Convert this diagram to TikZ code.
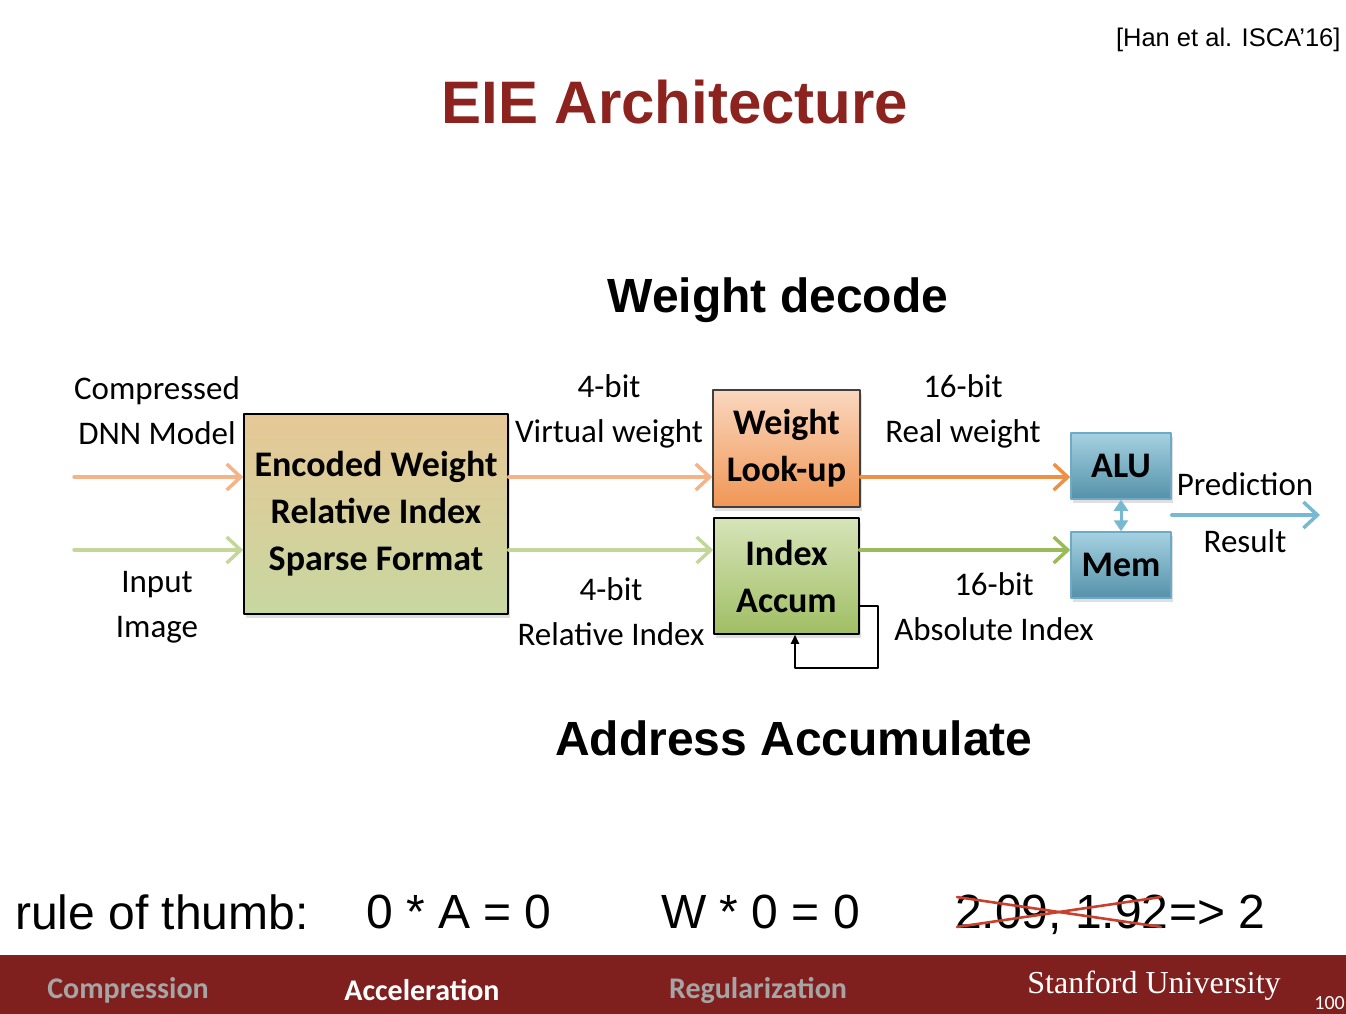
\documentclass[tikz,border=0pt]{standalone}
\usepackage{fontspec}
\setmainfont{Carlito}
\newfontfamily\arialf{Liberation Sans}
\newfontfamily\seriff{Liberation Serif}
\usetikzlibrary{arrows.meta,shadows}
\definecolor{eiered}{RGB}{140,35,30}
\definecolor{barred}{RGB}{128,32,30}
\definecolor{orgA}{RGB}{244,180,135}
\definecolor{orgB}{RGB}{237,145,70}
\definecolor{grnA}{RGB}{196,215,155}
\definecolor{grnB}{RGB}{155,187,89}
\definecolor{bluA}{RGB}{120,185,210}
\definecolor{bluE}{RGB}{110,170,200}
\definecolor{crossred}{RGB}{200,65,45}
\definecolor{footgray}{RGB}{165,165,165}

\begin{document}
\begin{tikzpicture}[x=1pt,y=-1pt, line join=round, line cap=round,
  box/.style={draw=black!75, line width=1.5pt, inner sep=0pt, align=center,
    font=\fontsize{36}{47}\selectfont\bfseries,
    drop shadow={opacity=0.25, shadow xshift=2pt, shadow yshift=-4pt}},
  lbl/.style={align=center, font=\fontsize{33}{45}\selectfont},
  flow/.style={line width=3.5pt, -{Straight Barb[length=14pt,width=26pt,line width=3.5pt]}},
  head/.style={font=\arialf\bfseries\fontsize{48}{56}\selectfont},
  rule/.style={anchor=west, inner sep=0pt, font=\arialf\fontsize{48}{56}\selectfont},
  foot/.style={font=\bfseries\fontsize{30}{36}\selectfont}]
	\useasboundingbox (0,0) rectangle (1346,1014);
	% titles
	\node[anchor=east, font=\arialf\fontsize{25.5}{30}\selectfont] (cite) at (1344,40) {[Han et al. ISCA’16]};
	\node[font=\arialf\bfseries\fontsize{60}{68}\selectfont, text=eiered] (title) at (675,102) {EIE Architecture};
	\node[head] (wd) at (778,300) {Weight decode};
	\node[head] (aa) at (794,738) {Address Accumulate};
	% blocks
	\node[box, draw=black, minimum width=264pt, minimum height=200pt,
	  top color={rgb,255:red,230;green,200;blue,150}, bottom color={rgb,255:red,200;green,215;blue,160}]
	  (enc) at (376,514) {Encoded Weight\\Relative Index\\Sparse Format};
	\node[box, minimum width=147pt, minimum height=117pt,
	  top color={rgb,255:red,250;green,215;blue,190}, bottom color={rgb,255:red,240;green,150;blue,85}]
	  (look) at (786.5,448.5) {Weight\\Look-up};
	\node[box, draw=black, minimum width=145pt, minimum height=116pt,
	  top color={rgb,255:red,215;green,228;blue,185}, bottom color={rgb,255:red,160;green,190;blue,100}]
	  (acc) at (786.5,576) {Index\\Accum};
	\node[box, draw=bluE, minimum width=100pt, minimum height=66pt,
	  top color={rgb,255:red,165;green,210;blue,225}, bottom color={rgb,255:red,85;green,145;blue,170}]
	  (alu) at (1121,466) {ALU};
	\node[box, draw=bluE, minimum width=100pt, minimum height=66pt,
	  top color={rgb,255:red,165;green,210;blue,225}, bottom color={rgb,255:red,85;green,145;blue,170}]
	  (mem) at (1121,565) {Mem};
	% labels
	\node[lbl] (cmp) at (157,411) {Compressed\\DNN Model};
	\node[lbl] (inp) at (157,607) {Input\\Image};
	\node[lbl] (vw) at (609,411) {4-bit\\Virtual weight};
	\node[lbl] (ri) at (611,612) {4-bit\\Relative Index};
	\node[lbl] (rw) at (963,411) {16-bit\\Real weight};
	\node[lbl] (ai) at (994,607) {16-bit\\Absolute Index};
	\node[lbl] (pr) at (1245,513) {Prediction\\[12pt]Result};
	% connectors
	\coordinate (in1) at (74,477);
	\coordinate (in2) at (74,550);
	\coordinate (out) at (1320,515);
	\draw[flow, orgA] (in1) -- (enc.west |- in1);
	\draw[flow, orgA] (enc.east |- in1) -- (look.west |- in1);
	\draw[flow, orgB] (look.east |- in1) -- (alu.west |- in1);
	\draw[flow, grnA] (in2) -- (enc.west |- in2);
	\draw[flow, grnA] (enc.east |- in2) -- (acc.west |- in2);
	\draw[flow, grnB] (acc.east |- in2) -- (mem.west |- in2);
	\draw[flow, bluA] (alu.east |- out) -- (out);
	\draw[bluA, line width=3pt, {Triangle[length=11pt,width=14pt]}-{Triangle[length=11pt,width=14pt]}] (alu.south) -- (mem.north);
	\draw[line width=1.8pt, -{Triangle[length=9pt,width=8pt]}] ([yshift=-30pt]acc.east) -- ++(18,0) -- ++(0,62) -| ([xshift=8.5pt]acc.south);
	% rule of thumb
	\node[rule] (rot) at (15,912) {rule of thumb:};
	\node[rule] (r1) at (366,912) {0 * A = 0};
	\node[rule] (r2) at (661,912) {W * 0 = 0};
	\node[rule, text depth=0pt] (old) at (955,912) {2.09, 1.92};
	\node[rule] (new) at (old.east) {=> 2};
	\draw[crossred, line width=2.6pt] ([xshift=2pt,yshift=2pt]old.south west) -- ([xshift=-8pt,yshift=-2pt]old.north east);
	\draw[crossred, line width=2.6pt] ([xshift=2pt,yshift=-2pt]old.north west) -- ([xshift=-8pt,yshift=2pt]old.south east);
	% footer
	\fill[barred] (0,955) rectangle (1346,1014);
	\node[foot, text=footgray] (f1) at (128,990) {Compression};
	\node[foot, text=white] (f2) at (422,990) {Acceleration};
	\node[foot, text=footgray] (f3) at (758,990) {Regularization};
	\node[text=white, font=\seriff\fontsize{32}{36}\selectfont] (su) at (1154,986) {Stanford University};
	\node[anchor=east, inner sep=1pt, text=white, font=\fontsize{20}{24}\selectfont] (pg) at (1346,1003) {100};
\end{tikzpicture}
\end{document}
